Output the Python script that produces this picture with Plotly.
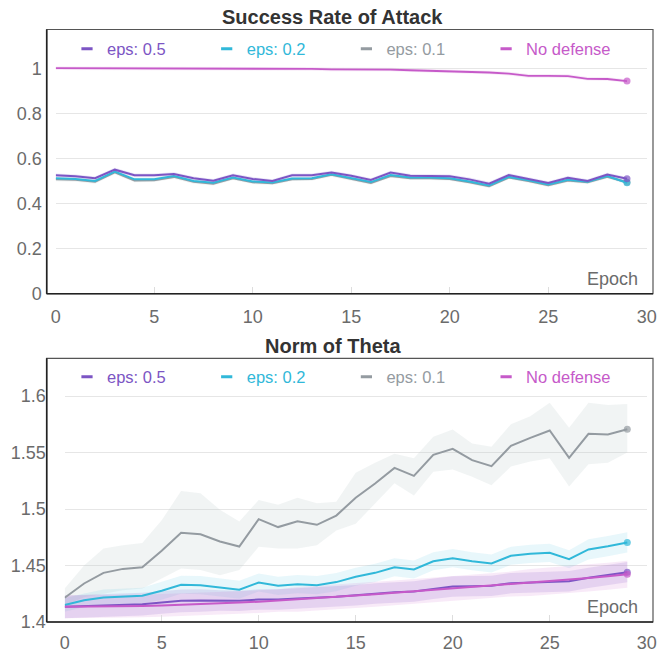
import plotly.graph_objects as go

W, H = 665, 653

epochs = list(range(30))

# ---- Success Rate of Attack ----
sr_eps05 = [0.525, 0.521, 0.512, 0.550, 0.525, 0.525, 0.531, 0.512, 0.501, 0.525,
            0.509, 0.500, 0.525, 0.525, 0.537, 0.523, 0.504, 0.537, 0.523, 0.523,
            0.521, 0.507, 0.488, 0.526, 0.510, 0.491, 0.514, 0.500, 0.528, 0.510]
sr_eps02 = [0.512, 0.509, 0.500, 0.542, 0.507, 0.508, 0.522, 0.500, 0.492, 0.515,
            0.498, 0.493, 0.511, 0.512, 0.530, 0.514, 0.495, 0.526, 0.515, 0.515,
            0.512, 0.498, 0.480, 0.518, 0.503, 0.484, 0.505, 0.497, 0.522, 0.492]
sr_eps01 = [0.507, 0.505, 0.496, 0.538, 0.502, 0.503, 0.518, 0.496, 0.488, 0.512,
            0.494, 0.490, 0.508, 0.509, 0.527, 0.510, 0.491, 0.522, 0.512, 0.512,
            0.509, 0.494, 0.477, 0.515, 0.500, 0.481, 0.502, 0.494, 0.519, 0.494]
sr_nodef = [1.000, 1.000, 1.000, 1.000, 1.000, 1.000, 1.000, 1.000, 1.000, 1.000,
            0.999, 0.998, 0.997, 0.997, 0.995, 0.995, 0.995, 0.994, 0.991, 0.989,
            0.988, 0.983, 0.981, 0.976, 0.966, 0.966, 0.965, 0.953, 0.952, 0.943]
sr_std = [0.008] * 30

# ---- Norm of Theta ----
nt_eps05 = [1.4134, 1.4140, 1.4146, 1.4152, 1.4158, 1.4173, 1.4187, 1.4190, 1.4190, 1.4187,
            1.4199, 1.4199, 1.4208, 1.4214, 1.4223, 1.4237, 1.4252, 1.4264, 1.4270, 1.4294,
            1.4314, 1.4317, 1.4320, 1.4344, 1.4350, 1.4355, 1.4361, 1.4391, 1.4414, 1.4441]
nt_eps02 = [1.4150, 1.4193, 1.4217, 1.4226, 1.4232, 1.4276, 1.4329, 1.4326, 1.4305, 1.4285,
            1.4350, 1.4320, 1.4335, 1.4326, 1.4353, 1.4400, 1.4435, 1.4485, 1.4465, 1.4538,
            1.4565, 1.4538, 1.4518, 1.4586, 1.4603, 1.4612, 1.4556, 1.4642, 1.4671, 1.4704]
nt_eps01 = [1.4214, 1.4341, 1.4435, 1.4470, 1.4485, 1.4630, 1.4790, 1.4777, 1.4712, 1.4668,
            1.4910, 1.4840, 1.4892, 1.4860, 1.4942, 1.5099, 1.5226, 1.5364, 1.5293, 1.5480,
            1.5532, 1.5432, 1.5379, 1.5559, 1.5630, 1.5695, 1.5453, 1.5665, 1.5660, 1.5706]
nt_nodef = [1.4134, 1.4135, 1.4137, 1.4139, 1.4142, 1.4147, 1.4152, 1.4158, 1.4165, 1.4172,
            1.4180, 1.4190, 1.4200, 1.4210, 1.4222, 1.4234, 1.4246, 1.4258, 1.4270, 1.4284,
            1.4298, 1.4310, 1.4322, 1.4336, 1.4350, 1.4362, 1.4376, 1.4390, 1.4405, 1.4422]
nt_eps01_upper = [1.4296, 1.4500, 1.4650, 1.4680, 1.4700, 1.4900, 1.5160, 1.5140, 1.4994, 1.4890,
                  1.5080, 1.5038, 1.5100, 1.5050, 1.5065, 1.5320, 1.5410, 1.5490, 1.5450, 1.5640,
                  1.5704, 1.5580, 1.5550, 1.5750, 1.5820, 1.5940, 1.5720, 1.5940, 1.5920, 1.5930]
nt_eps01_lower = [1.4150, 1.4220, 1.4250, 1.4280, 1.4296, 1.4385, 1.4473, 1.4460, 1.4414, 1.4460,
                  1.4665, 1.4650, 1.4650, 1.4680, 1.4810, 1.4870, 1.5050, 1.5227, 1.5120, 1.5330,
                  1.5350, 1.5285, 1.5210, 1.5375, 1.5420, 1.5450, 1.5200, 1.5395, 1.5410, 1.5500]
nt_eps02_std = [0.006, 0.006, 0.007, 0.007, 0.007, 0.008, 0.008, 0.008, 0.008, 0.008,
                0.008, 0.008, 0.008, 0.008, 0.008, 0.008, 0.008, 0.008, 0.008, 0.008,
                0.008, 0.008, 0.008, 0.008, 0.008, 0.008, 0.008, 0.009, 0.009, 0.009]
nt_eps05_std = [0.010, 0.010, 0.010, 0.010, 0.010, 0.010, 0.010, 0.010, 0.009, 0.009,
                0.009, 0.009, 0.009, 0.009, 0.009, 0.009, 0.009, 0.009, 0.009, 0.009,
                0.009, 0.009, 0.009, 0.009, 0.009, 0.009, 0.009, 0.009, 0.009, 0.009]
nt_nodef_std = [0.010, 0.010, 0.010, 0.010, 0.010, 0.010, 0.010, 0.010, 0.010, 0.010,
                0.010, 0.010, 0.011, 0.011, 0.011, 0.011, 0.011, 0.011, 0.011, 0.011,
                0.011, 0.011, 0.011, 0.011, 0.012, 0.012, 0.012, 0.012, 0.012, 0.012]

names = ["eps: 0.5", "eps: 0.2", "eps: 0.1", "No defense"]
colors = ["#7c55c4", "#31b8d9", "#949ba1", "#c65ac9"]
band_colors = ["rgba(124,85,196,0.16)", "rgba(49,184,217,0.11)",
               "rgba(190,205,205,0.22)", "rgba(198,90,201,0.13)"]

titles = ["Success Rate of Attack", "Norm of Theta"]

FONT = "Liberation Sans, Arial, Helvetica, sans-serif"
TICK_COLOR = "#6b6b6b"

fig = go.Figure()

def px_x(p):
    return p / W

def px_y(p):
    return 1 - p / H

def add_band(xa, ya, lower, upper, fillcolor):
    fig.add_trace(go.Scatter(x=epochs, y=lower, mode="lines", line=dict(width=0),
                             hoverinfo="skip", showlegend=False, xaxis=xa, yaxis=ya))
    fig.add_trace(go.Scatter(x=epochs, y=upper, mode="lines", line=dict(width=0),
                             fill="tonexty", fillcolor=fillcolor, hoverinfo="skip",
                             showlegend=False, xaxis=xa, yaxis=ya))

def add_line(xa, ya, vals, color, width=2):
    sizes = [0] * (len(vals) - 1) + [7]
    fig.add_trace(go.Scatter(x=epochs, y=vals, mode="lines+markers",
                             line=dict(color=color, width=width),
                             marker=dict(size=sizes, color=color, line=dict(width=0)),
                             showlegend=False, xaxis=xa, yaxis=ya))

# top chart
top_series = [sr_eps05, sr_eps02, sr_eps01, sr_nodef]
for i in [2, 1, 0, 3]:
    v = top_series[i]
    add_band("x", "y", [a - s for a, s in zip(v, sr_std)], [a + s for a, s in zip(v, sr_std)],
             band_colors[i])
for i in [2, 1, 0, 3]:
    add_line("x", "y", top_series[i], colors[i], 2 if i != 3 else 1.8)

# bottom chart
add_band("x2", "y2", nt_eps01_lower, nt_eps01_upper, band_colors[2])
add_band("x2", "y2", [a - s for a, s in zip(nt_eps02, nt_eps02_std)],
         [a + s for a, s in zip(nt_eps02, nt_eps02_std)], band_colors[1])
add_band("x2", "y2", [a - s for a, s in zip(nt_eps05, nt_eps05_std)],
         [a + s for a, s in zip(nt_eps05, nt_eps05_std)], band_colors[0])
add_band("x2", "y2", [a - s for a, s in zip(nt_nodef, nt_nodef_std)],
         [a + s for a, s in zip(nt_nodef, nt_nodef_std)], band_colors[3])
bot_series = [nt_eps05, nt_eps02, nt_eps01, nt_nodef]
for i in [2, 1, 0, 3]:
    add_line("x2", "y2", bot_series[i], colors[i])

# legend entries (short dash symbol, coloured text)
for lg, xa, ya in [("legend", "x", "y"), ("legend2", "x2", "y2")]:
    for n, c in zip(names, colors):
        fig.add_trace(go.Scatter(
            x=[None], y=[None], mode="markers", xaxis=xa, yaxis=ya,
            name=f'<span style="color:{c}">{n}</span>',
            marker=dict(symbol="line-ew", size=8, color=c, line=dict(color=c, width=3)),
            legend=lg, showlegend=True))

# geometry (pixels)
frame_left, frame_right = 46.7, 653
top_frame = (29.5, 293.7)
bot_frame = (358.3, 622.0)
top_x0 = 55.7
bot_x0 = 64.7
x30 = 646.7

top_ymax = (top_frame[1] - top_frame[0]) / 225.5
bot_ymax = 1.4 + (bot_frame[1] - bot_frame[0]) / 1130.0

axis_common = dict(showgrid=True, gridcolor="#e6e6e6", gridwidth=1, zeroline=False,
                   showline=False, tickfont=dict(family=FONT, size=18, color=TICK_COLOR))
xaxis_common = dict(range=[0, 30], dtick=5, ticks="inside", ticklen=7, tickcolor="#dddddd",
                    showgrid=False, zeroline=False, showline=False,
                    tickfont=dict(family=FONT, size=18, color=TICK_COLOR))
legend_common = dict(orientation="h", xanchor="left", yanchor="middle", traceorder="normal",
                     entrywidth=94.7, entrywidthmode="pixels", bgcolor="rgba(0,0,0,0)",
                     font=dict(family=FONT, size=16.5, color="#666"), itemclick=False)

fig.update_layout(
    width=W, height=H, margin=dict(l=0, r=0, t=0, b=0, autoexpand=False),
    paper_bgcolor="white", plot_bgcolor="white",
    font=dict(family=FONT),
    xaxis=dict(domain=[px_x(top_x0), px_x(x30)], anchor="y", ticklabelstandoff=10,
               **xaxis_common),
    yaxis=dict(domain=[px_y(top_frame[1]), px_y(top_frame[0])], range=[0, top_ymax],
               dtick=0.2, anchor="free", position=px_x(frame_left), ticks="",
               ticklabelstandoff=5, **axis_common),
    xaxis2=dict(domain=[px_x(bot_x0), px_x(x30)], anchor="y2", ticklabelstandoff=8,
                **xaxis_common),
    yaxis2=dict(domain=[px_y(bot_frame[1]), px_y(bot_frame[0])], range=[1.4, bot_ymax],
                dtick=0.05, anchor="free", position=px_x(frame_left), ticks="",
                ticklabelstandoff=1, **axis_common),
    legend=dict(x=px_x(67), y=px_y(49), **legend_common),
    legend2=dict(x=px_x(67), y=px_y(377), **legend_common),
)

shapes = []
annotations = []
for (ft, fb), title in zip([top_frame, bot_frame], titles):
    shapes.append(dict(type="rect", xref="paper", yref="paper",
                       x0=px_x(frame_left), x1=px_x(frame_right), y0=px_y(fb), y1=px_y(ft),
                       line=dict(color="#555555", width=1.2), layer="above"))
    shapes.append(dict(type="line", xref="paper", yref="paper",
                       x0=px_x(frame_left), x1=px_x(frame_right), y0=px_y(fb), y1=px_y(fb),
                       line=dict(color="#222222", width=1.6), layer="above"))
    shapes.append(dict(type="line", xref="paper", yref="paper",
                       x0=px_x(frame_left), x1=px_x(frame_left), y0=px_y(fb), y1=px_y(ft),
                       line=dict(color="#222222", width=1.6), layer="above"))
    annotations.append(dict(text=f"<b>{title}</b>", xref="paper", yref="paper",
                            x=0.5, y=px_y(ft), xanchor="center", yanchor="bottom",
                            showarrow=False, yshift=-1,
                            font=dict(family=FONT, size=20, color="#333333")))
    annotations.append(dict(text="Epoch", xref="paper", yref="paper",
                            x=px_x(639.5), y=px_y(fb), xanchor="right", yanchor="bottom",
                            showarrow=False, yshift=3,
                            font=dict(family=FONT, size=18, color=TICK_COLOR)))

fig.update_layout(shapes=shapes, annotations=annotations)

fig.write_html("out.html", config={"displayModeBar": False},
               post_script="document.body.style.margin='0';document.body.style.overflow='hidden';")
